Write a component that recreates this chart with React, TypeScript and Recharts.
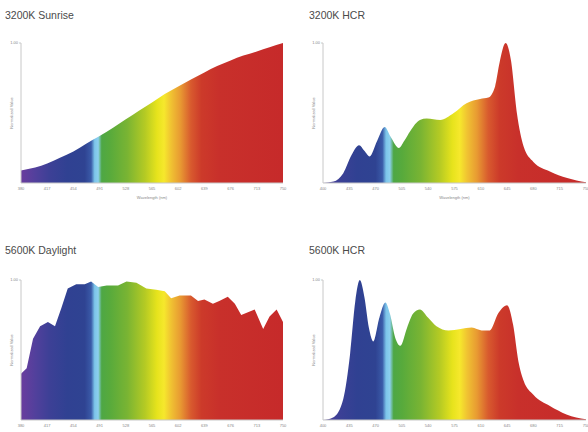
import React from "react";
import { Area, AreaChart, XAxis, YAxis } from "recharts";

// Spectral power distributions, normalized to 1.00.

const sunriseNm = [380, 400, 417, 435, 454, 472, 491, 510, 528, 546, 565, 583, 602, 620, 639, 657, 676, 694, 713, 731, 750];
const sunriseValue = [0.09, 0.11, 0.14, 0.18, 0.225, 0.28, 0.335, 0.395, 0.455, 0.515, 0.575, 0.635, 0.69, 0.74, 0.79, 0.835, 0.875, 0.91, 0.94, 0.97, 1.0];

const hcr3200Nm = [400, 414, 427, 438, 448, 455, 462, 472, 482, 490, 501, 508, 516, 529, 538, 556, 574, 591, 609, 620, 629, 635, 643, 650, 658, 667, 680, 702, 725, 750];
const hcr3200Value = [0, 0.01, 0.07, 0.2, 0.27, 0.23, 0.19, 0.3, 0.4, 0.33, 0.25, 0.3, 0.37, 0.45, 0.46, 0.45, 0.5, 0.57, 0.6, 0.61, 0.69, 0.86, 1.0, 0.88, 0.5, 0.26, 0.15, 0.083, 0.036, 0.005];

const daylightNm = [380, 388, 397, 407, 418, 428, 437, 446, 458, 470, 479, 489, 501, 517, 529, 543, 557, 571, 583, 592, 604, 620, 630, 639, 651, 660, 672, 682, 691, 710, 722, 731, 741, 750];
const daylightValue = [0.33, 0.37, 0.58, 0.67, 0.7, 0.67, 0.8, 0.94, 0.97, 0.97, 0.99, 0.95, 0.96, 0.96, 0.99, 0.98, 0.94, 0.93, 0.92, 0.87, 0.89, 0.89, 0.85, 0.86, 0.83, 0.85, 0.88, 0.83, 0.75, 0.79, 0.65, 0.74, 0.79, 0.7];

const hcr5600Nm = [400, 414, 427, 436, 443, 449, 455, 461, 467, 475, 483, 489, 496, 503, 512, 520, 529, 540, 551, 567, 583, 598, 611, 622, 633, 645, 653, 660, 667, 680, 702, 724, 750];
const hcr5600Value = [0, 0.02, 0.15, 0.47, 0.85, 1.0, 0.88, 0.66, 0.56, 0.73, 0.84, 0.76, 0.59, 0.53, 0.66, 0.76, 0.79, 0.73, 0.67, 0.64, 0.65, 0.66, 0.64, 0.64, 0.76, 0.82, 0.68, 0.42, 0.28, 0.18, 0.1, 0.04, 0.005];

const wideTicks = [380, 417, 454, 491, 528, 565, 602, 639, 676, 713, 750];
const narrowTicks = [400, 435, 470, 505, 540, 575, 610, 645, 680, 715, 750];

// visible spectrum colours by wavelength
const spectrumNm = [380, 400, 420, 445, 470, 479, 484, 489, 494, 505, 530, 555, 572, 582, 592, 605, 620, 635, 660, 750];
const spectrumColor = ["#6a3d9e", "#52409c", "#3d4096", "#304192", "#2f4392", "#3a5aa8", "#7cc5ea", "#8ccfee", "#4ea745", "#57aa3c", "#79b433", "#b4ca24", "#e6e31c", "#f6e82c", "#f0c232", "#e89a32", "#d85a2e", "#cc3a2a", "#c8302b", "#c62a2a"];

const FONT = "'Liberation Sans', Arial, sans-serif";
const AXIS = "#c8c8c8";
const TICK = "#888";

function toRows(nm: number[], values: number[]) {
  return nm.map((w, i) => ({ nm: w, value: values[i] }));
}

interface PanelProps {
  id: string;
  title: string;
  nm: number[];
  values: number[];
  ticks: number[];
  left: number;
  top: number;
  width: number;
  titleTop: number;
  plotTop: number;
  plotHeight: number;
  marginLeft: number;
  marginRight: number;
  curve: "monotone" | "linear";
}

function Panel(p: PanelProps) {
  const min = p.ticks[0];
  const max = p.ticks[p.ticks.length - 1];
  const height = p.plotTop + p.plotHeight + 24;
  return (
    <div style={{ position: "absolute", left: p.left, top: p.top, width: p.width, height }}>
      <div
        style={{
          position: "absolute",
          left: p.left === 0 ? 5 : 9,
          top: p.titleTop,
          fontFamily: FONT,
          fontSize: 10.5,
          color: "#4a4a4a",
          whiteSpace: "nowrap",
        }}
      >
        {p.title}
      </div>
      <AreaChart
        width={p.width}
        height={height}
        data={toRows(p.nm, p.values)}
        margin={{ top: p.plotTop, right: p.marginRight, bottom: 4, left: p.marginLeft }}
      >
        <defs>
          <linearGradient id={p.id} x1="0" y1="0" x2="1" y2="0">
            {spectrumNm.map((w, i) => (
              <stop key={w} offset={Math.max(0, Math.min(1, (w - min) / (max - min)))} stopColor={spectrumColor[i]} />
            ))}
          </linearGradient>
        </defs>
        <XAxis
          dataKey="nm"
          type="number"
          domain={[min, max]}
          ticks={p.ticks}
          interval={0}
          height={20}
          tickLine={false}
          tickSize={3}
          tickMargin={1}
          axisLine={{ stroke: AXIS }}
          tick={{ fontSize: 4, fill: TICK, fontFamily: FONT }}
          label={{ value: "Wavelength (nm)", position: "insideBottom", offset: 4, fontSize: 4, fill: TICK, fontFamily: FONT }}
        />
        <YAxis
          type="number"
          domain={[0, 1]}
          ticks={[1]}
          width={14}
          tickSize={2}
          tickMargin={1}
          tickLine={{ stroke: AXIS }}
          axisLine={{ stroke: AXIS }}
          tickFormatter={(v: number) => v.toFixed(2)}
          tick={{ fontSize: 4, fill: TICK, fontFamily: FONT }}
          label={{
            value: "Normalized Value",
            angle: -90,
            position: "insideLeft",
            offset: 5,
            fontSize: 4,
            fill: TICK,
            fontFamily: FONT,
            style: { textAnchor: "middle" },
          }}
        />
        <Area
          type={p.curve}
          dataKey="value"
          stroke="none"
          fill={`url(#${p.id})`}
          fillOpacity={1}
          isAnimationActive={false}
          dot={false}
          activeDot={false}
        />
      </AreaChart>
    </div>
  );
}

export default function App() {
  return (
    <div
      style={{
        position: "fixed",
        left: 0,
        top: 0,
        width: 588,
        height: 432,
        background: "#fff",
        overflow: "hidden",
      }}
    >
      <Panel id="g1" title="3200K Sunrise" nm={sunriseNm} values={sunriseValue} ticks={wideTicks}
        left={0} top={0} width={300} titleTop={9} plotTop={43} plotHeight={140} marginLeft={7} marginRight={17} curve="monotone" />
      <Panel id="g2" title="3200K HCR" nm={hcr3200Nm} values={hcr3200Value} ticks={narrowTicks}
        left={300} top={0} width={288} titleTop={9} plotTop={43} plotHeight={140} marginLeft={9} marginRight={2} curve="monotone" />
      <Panel id="g3" title="5600K Daylight" nm={daylightNm} values={daylightValue} ticks={wideTicks}
        left={0} top={215} width={300} titleTop={29} plotTop={65} plotHeight={140} marginLeft={7} marginRight={17} curve="linear" />
      <Panel id="g4" title="5600K HCR" nm={hcr5600Nm} values={hcr5600Value} ticks={narrowTicks}
        left={300} top={215} width={288} titleTop={29} plotTop={65} plotHeight={140} marginLeft={9} marginRight={2} curve="monotone" />
    </div>
  );
}
